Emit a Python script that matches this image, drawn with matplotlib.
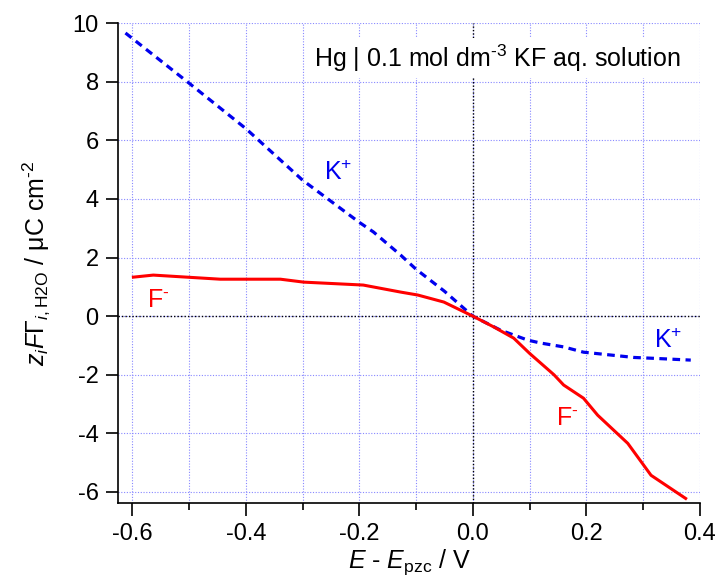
import numpy as np
import matplotlib
matplotlib.use("Agg")
import matplotlib.pyplot as plt
from matplotlib.ticker import MultipleLocator

plt.rcParams['font.family'] = ['Liberation Sans', 'DejaVu Sans']
plt.rcParams['mathtext.fontset'] = 'custom'
plt.rcParams['mathtext.rm'] = 'Liberation Sans'
plt.rcParams['mathtext.it'] = 'Liberation Sans:italic'

# K+ (blue dashed)
e_k = [-0.612, -0.5, -0.4, -0.3, -0.2, -0.175, -0.127, -0.1, -0.05, 0.0,
       0.049, 0.097, 0.12, 0.16, 0.195, 0.284, 0.308, 0.384]
g_k = [9.66, 7.95, 6.4, 4.64, 3.2, 2.87, 2.08, 1.6, 0.85, 0.0,
       -0.48, -0.82, -0.92, -1.05, -1.23, -1.41, -1.43, -1.5]

# F- (red solid)
e_f = [-0.598, -0.563, -0.445, -0.339, -0.298, -0.193, -0.127, -0.097, -0.051, 0.0,
       0.037, 0.072, 0.1, 0.143, 0.16, 0.195, 0.22, 0.273, 0.314, 0.375]
g_f = [1.33, 1.40, 1.26, 1.26, 1.16, 1.06, 0.82, 0.72, 0.48, 0.0,
       -0.37, -0.75, -1.27, -2.0, -2.35, -2.8, -3.38, -4.34, -5.43, -6.22]

xticks = [-0.6, -0.4, -0.2, 0.0, 0.2, 0.4]
xlabels = ['-0.6', '-0.4', '-0.2', '0.0', '0.2', '0.4']
yticks = [-6, -4, -2, 0, 2, 4, 6, 8, 10]
ylabels = ['-6', '-4', '-2', '0', '2', '4', '6', '8', '10']

fig = plt.figure(figsize=(7.2, 5.83), dpi=100)
ax = fig.add_axes([0.164, 0.137, 0.808, 0.8235])

ax.axhline(0, color='black', lw=1, ls=(0, (1, 1.5)), zorder=1)
ax.axvline(0, color='black', lw=1, ls=(0, (1, 1.5)), zorder=1)

ax.plot(e_k, g_k, color='#0000ee', lw=2.3, ls=(0, (2.4, 1.7)), zorder=3)
ax.plot(e_f, g_f, color='#ff0000', lw=2.2, zorder=3)

ax.set_xlim(-0.625, 0.4)
ax.set_ylim(-6.38, 10)
ax.xaxis.set_minor_locator(MultipleLocator(0.1))
ax.set_xticks(xticks)
ax.set_xticklabels(xlabels)
ax.set_yticks(yticks)
ax.set_yticklabels(ylabels)

ax.grid(True, which='both', color='#8888ff', lw=0.8, ls=(0, (1, 1.5)), zorder=0)
ax.set_axisbelow(True)

for s in ['top', 'right']:
    ax.spines[s].set_visible(False)
ax.spines['left'].set_linewidth(1.2)
ax.spines['bottom'].set_linewidth(1.2)
ax.tick_params(which='major', length=9, width=1.2, labelsize=17, pad=5)
ax.tick_params(which='minor', length=5, width=1.2)

ax.set_xlabel(r'$\it{E}$ - $\it{E}_{\rm pzc}$ / V', fontsize=18, labelpad=2)
ax.set_ylabel(r'$\it{z_i F\Gamma}_{i,\rm{H2O}}$ / μC cm$^{\text{-2}}$', fontsize=18, labelpad=15)

bb = dict(facecolor='white', edgecolor='none', pad=1)
ax.text(-0.237, 4.88, r'K$^{+}$', color='#0000ee', fontsize=18, ha='center', va='center', bbox=bb)
ax.text(0.345, -0.85, r'K$^{+}$', color='#0000ee', fontsize=18, ha='center', va='center', bbox=bb)
ax.text(-0.554, 0.55, r'F$^{\text{-}}$', color='#ff0000', fontsize=18, ha='center', va='center', bbox=bb)
ax.text(0.167, -3.48, r'F$^{\text{-}}$', color='#ff0000', fontsize=18, ha='center', va='center', bbox=bb)
ax.text(0.366, 8.8, r'Hg | 0.1 mol dm$^{\text{-3}}$ KF aq. solution', fontsize=18,
        ha='right', va='center', bbox=dict(facecolor='white', edgecolor='none', pad=3))

fig.savefig('out.png', dpi=100)
